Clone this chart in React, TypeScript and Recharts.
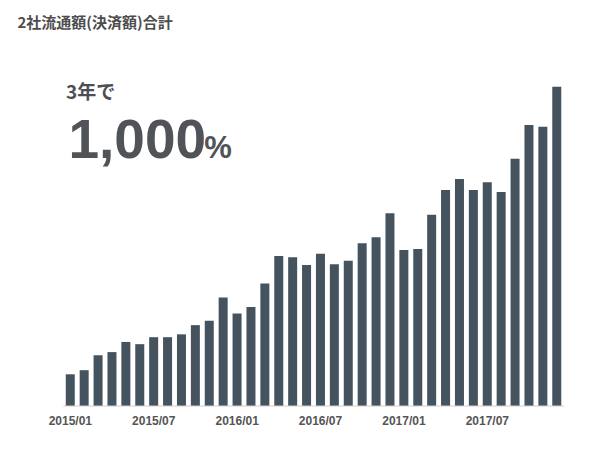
import React from "react";
import { BarChart, Bar, XAxis, YAxis } from "recharts";

const months: string[] = [
  "2015/01","2015/02","2015/03","2015/04","2015/05","2015/06","2015/07","2015/08","2015/09","2015/10","2015/11","2015/12",
  "2016/01","2016/02","2016/03","2016/04","2016/05","2016/06","2016/07","2016/08","2016/09","2016/10","2016/11","2016/12",
  "2017/01","2017/02","2017/03","2017/04","2017/05","2017/06","2017/07","2017/08","2017/09","2017/10","2017/11","2017/12",
];

const volumeIndex: number[] = [
  100, 113, 160, 170, 202, 195, 217, 217, 226, 255, 269, 342,
  292, 312, 386, 473, 469, 445, 480, 447, 458, 513, 532, 608,
  492, 495, 603, 681, 716, 681, 706, 675, 780, 886, 881, 1007,
];

const title = "2社流通額(決済額)合計";
const subTitle = "3年で";
const bigNumber = "1,000";
const bigUnit = "%";

const data = months.map((m, i) => ({ month: m, value: volumeIndex[i] }));

export default function App() {
  return (
    <div style={{ position: "relative", width: 584, height: 441 }}>
      <BarChart
        width={584}
        height={441}
        data={data}
        margin={{ top: 49.2, right: 28.2, left: 55.4, bottom: 13 }}
        barCategoryGap="17%"
      >
        <XAxis
          dataKey="month"
          interval={5}
          tickLine={false}
          axisLine={{ stroke: "#cfcfcf", strokeWidth: 1 }}
          tickMargin={4}
          height={30}
          tick={{ fontSize: 12, fontWeight: 700, fill: "#555", style: { fontFamily: "Liberation Sans" } }}
        />
        <YAxis hide domain={[0, 1100]} />
        <Bar dataKey="value" fill="#45535e" isAnimationActive={false} />
      </BarChart>
      <svg
        width={584}
        height={441}
        style={{ position: "absolute", left: 0, top: 0, pointerEvents: "none" }}
      >
        <text
          x={9.5}
          y={19.5}
          fontSize={15}
          fontWeight={700}
          fill="#4d4d4d"
          style={{ fontFamily: "Noto Sans CJK JP" }}
        >
          {title}
        </text>
        <text
          x={58}
          y={90.5}
          fontSize={19}
          fontWeight={700}
          fill="#4d4f53"
          style={{ fontFamily: "Noto Sans CJK JP" }}
        >
          {subTitle}
        </text>
        <text
          x={60.5}
          y={149.7}
          fontSize={55}
          fontWeight={700}
          fill="#505358"
          style={{ fontFamily: "Liberation Sans" }}
        >
          {bigNumber}
          <tspan fontSize={31} dx={-2}>{bigUnit}</tspan>
        </text>
      </svg>
    </div>
  );
}
